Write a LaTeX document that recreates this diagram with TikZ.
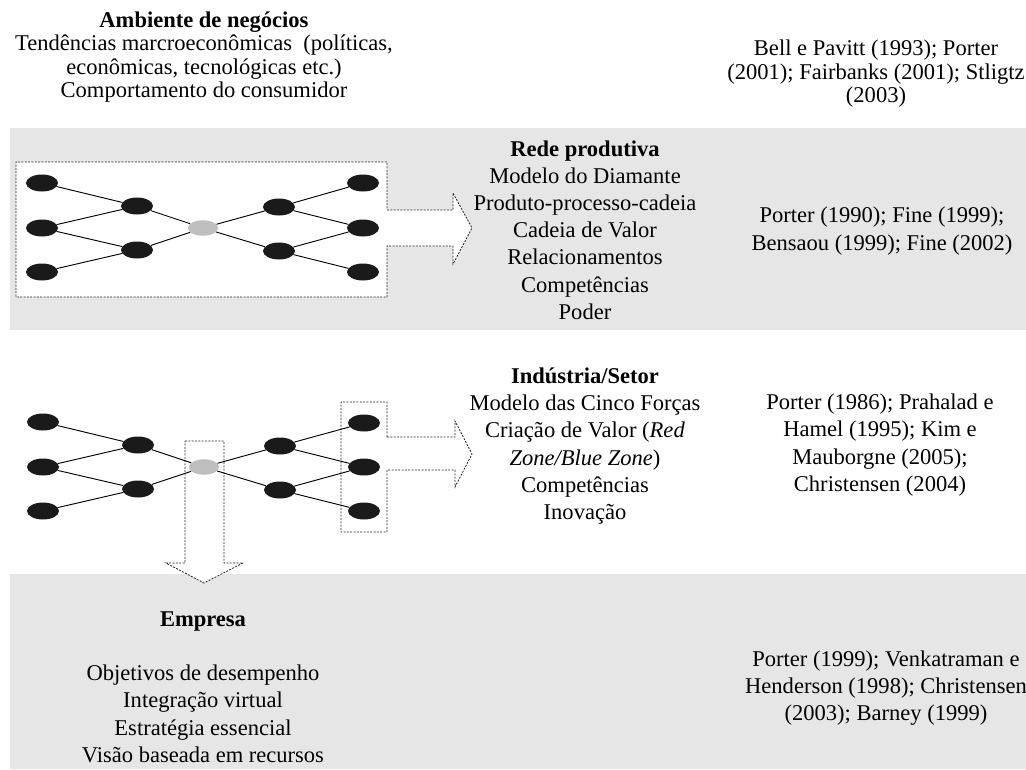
\documentclass[tikz,border=0pt]{standalone}
\usepackage{fontspec}
\setmainfont{Liberation Serif}
\usetikzlibrary{shapes.geometric}
\definecolor{bandgray}{RGB}{230,230,230}
\definecolor{hubgray}{RGB}{190,190,190}
\definecolor{nodeblack}{RGB}{26,26,26}
\begin{document}
\begin{tikzpicture}[x=0.75pt,y=-0.75pt,
  nd/.style={ellipse, fill=nodeblack, draw=none, minimum width=24pt, minimum height=12.75pt, inner sep=0pt},
  hub/.style={nd, fill=hubgray, minimum width=22.5pt, minimum height=11.5pt},
  lnk/.style={line width=0.7pt, black},
  dots/.style={draw=black!85, line width=0.6pt, dash pattern=on 1.5pt off 1pt},
  txt/.style={align=center, inner sep=0pt, font=\fontsize{16.9}{20.4}\selectfont},
  toptxt/.style={align=center, inner sep=0pt, font=\fontsize{16.9}{17.6}\selectfont}]
\clip (0,0) rectangle (1026,769);
% bands
\fill[bandgray] (10,128) rectangle (1026,330);
\fill[bandgray] (10,574) rectangle (1026,769);
% band 1 dotted frame with arrow
\path[dots, fill=white] (387,210) -- (453,210) -- (453,193) -- (472,228) -- (453,264) -- (453,246) -- (387,246)
  -- (387,297) -- (16,297) -- (16,162) -- (387,162) -- cycle;
% band 2 dotted frame with arrow (right column)
\path[dots] (387,437) -- (455,437) -- (455,421) -- (472,454) -- (455,487) -- (455,470) -- (387,470)
  -- (387,532) -- (341,532) -- (341,402) -- (387,402) -- cycle;
% band 2 down arrow
\path[dots, fill=white] (185,441) -- (224,441) -- (224,563) -- (243,563) -- (204,583) -- (166,563) -- (185,563) -- cycle;
% network 1
\node[nd] (a1) at (42,183) {};
\node[nd] (a2) at (42,228) {};
\node[nd] (a3) at (42,272) {};
\node[nd] (a4) at (137,206) {};
\node[nd] (a5) at (137,250) {};
\node[hub] (a6) at (203,228) {};
\node[nd] (a7) at (279,207) {};
\node[nd] (a8) at (279,251) {};
\node[nd] (a9) at (363,183) {};
\node[nd] (a10) at (363,228) {};
\node[nd] (a11) at (363,272) {};
\draw[lnk] (a1) -- (a4); \draw[lnk] (a2) -- (a4); \draw[lnk] (a2) -- (a5); \draw[lnk] (a3) -- (a5);
\draw[lnk] (a4) -- (a6); \draw[lnk] (a5) -- (a6); \draw[lnk] (a6) -- (a7); \draw[lnk] (a6) -- (a8);
\draw[lnk] (a7) -- (a9); \draw[lnk] (a7) -- (a10); \draw[lnk] (a8) -- (a10); \draw[lnk] (a8) -- (a11);
% network 2
\node[nd] (b1) at (43,422) {};
\node[nd] (b2) at (43,467) {};
\node[nd] (b3) at (43,511) {};
\node[nd] (b4) at (138,445) {};
\node[nd] (b5) at (138,489) {};
\node[hub] (b6) at (204,467) {};
\node[nd] (b7) at (280,446) {};
\node[nd] (b8) at (280,490) {};
\node[nd] (b9) at (364,423) {};
\node[nd] (b10) at (364,467) {};
\node[nd] (b11) at (364,511) {};
\draw[lnk] (b1) -- (b4); \draw[lnk] (b2) -- (b4); \draw[lnk] (b2) -- (b5); \draw[lnk] (b3) -- (b5);
\draw[lnk] (b4) -- (b6); \draw[lnk] (b5) -- (b6); \draw[lnk] (b6) -- (b7); \draw[lnk] (b6) -- (b8);
\draw[lnk] (b7) -- (b9); \draw[lnk] (b7) -- (b10); \draw[lnk] (b8) -- (b10); \draw[lnk] (b8) -- (b11);
% texts
\node[toptxt] (amb) at (204,57) {\textbf{Ambiente de negócios}\\Tendências marcroeconômicas\ \ (políticas,\\econômicas, tecnológicas etc.)\\Comportamento do consumidor};
\node[toptxt] (ambref) at (876,74) {Bell e Pavitt (1993); Porter\\(2001); Fairbanks (2001); Stligtz\\(2003)};
\node[txt] (rede) at (585,230) {\textbf{Rede produtiva}\\Modelo do Diamante\\Produto-processo-cadeia\\Cadeia de Valor\\Relacionamentos\\Competências\\Poder};
\node[txt] (rederef) at (882,231) {Porter (1990); Fine (1999);\\Bensaou (1999); Fine (2002)};
\node[txt] (ind) at (585,446) {\textbf{Indústria/Setor}\\Modelo das Cinco Forças\\Criação de Valor (\textit{Red}\\\textit{Zone/Blue Zone})\\Competências\\Inovação};
\node[txt] (indref) at (880,445) {Porter (1986); Prahalad e\\Hamel (1995); Kim e\\Mauborgne (2005);\\Christensen (2004)};
\node[txt] (emp) at (203,687) {\textbf{Empresa}\\[20.4pt]Objetivos de desempenho\\Integração virtual\\Estratégia essencial\\Visão baseada em recursos};
\node[txt] (empref) at (886,688) {Porter (1999); Venkatraman e\\Henderson (1998); Christensen\\(2003); Barney (1999)};
\end{tikzpicture}
\end{document}
